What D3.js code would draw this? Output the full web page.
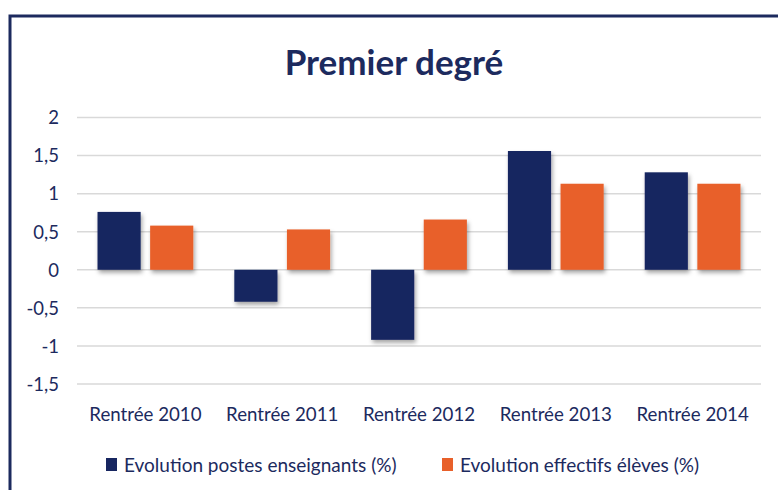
<!DOCTYPE html>
<html><head><meta charset="utf-8">
<script src="https://cdn.jsdelivr.net/npm/d3@7"></script>
<style>body{margin:0;background:#fff}svg{display:block}</style>
</head><body><svg id="c" width="778" height="490"></svg>
<script>
const categories = ["Rentrée 2010","Rentrée 2011","Rentrée 2012","Rentrée 2013","Rentrée 2014"];
const seriesNames = ["Evolution postes enseignants (%)","Evolution effectifs élèves (%)"];
const postes = [0.76, -0.42, -0.92, 1.56, 1.28];
const effectifs = [0.58, 0.53, 0.66, 1.13, 1.13];
const yTicks = [-1.5,-1,-0.5,0,0.5,1,1.5,2];
const colors = ["#172660","#E8602A"];
const titleText = "Premier degré";

const svg = d3.select("#c");
const font = "Lato, 'Open Sans', sans-serif";
const textColor = "#1c2a5e";

// frame
svg.append("rect").attr("x",10).attr("y",16).attr("width",790).attr("height",500)
  .attr("fill","none").attr("stroke","#1c2a5e").attr("stroke-width",3);

const defs = svg.append("defs");
const f = defs.append("filter").attr("id","sh").attr("x","-20%").attr("y","-20%").attr("width","150%").attr("height","150%");
f.append("feDropShadow").attr("dx",1.5).attr("dy",3).attr("stdDeviation",2).attr("flood-color","#000").attr("flood-opacity",0.35);

const x0 = d3.scaleBand().domain(categories).range([77,761]).paddingInner(0.3).paddingOuter(0.15);
const x1 = d3.scaleBand().domain([0,1]).range([0,x0.bandwidth()]).paddingInner(0.18);
const y = d3.scaleLinear().domain([-1.5,2]).range([384,117.5]);

// gridlines
svg.append("g").selectAll("line").data(yTicks).join("line")
  .attr("x1",77).attr("x2",761).attr("y1",d=>y(d)).attr("y2",d=>y(d))
  .attr("stroke","#d9d9d9").attr("stroke-width",1.5);

// y axis labels
const fmt = d => String(d).replace(".",",");
const yAxis = d3.axisLeft(y).tickValues(yTicks).tickFormat(fmt).tickSize(0).tickPadding(0);
const ya = svg.append("g").attr("transform","translate(59,0)").call(yAxis);
ya.select(".domain").remove();
ya.selectAll("text").attr("font-family",font).attr("font-size",18.5).attr("fill",textColor).attr("dy","0.34em");

// bars
const data = categories.map((c,i)=>({c, vals:[postes[i],effectifs[i]]}));
const g = svg.append("g");
data.forEach(d=>{
  d.vals.forEach((v,j)=>{
    g.append("rect")
      .attr("x", x0(d.c)+x1(j))
      .attr("width", x1.bandwidth())
      .attr("y", y(Math.max(0,v)))
      .attr("height", Math.abs(y(v)-y(0)))
      .attr("fill", colors[j])
      .attr("filter","url(#sh)");
  });
});

// x labels
const xAxis = d3.axisBottom(x0).tickSize(0).tickPadding(0);
const xa = svg.append("g").attr("transform","translate(0,421)").call(xAxis);
xa.select(".domain").remove();
xa.selectAll("text").attr("font-family",font).attr("font-size",18.7).attr("fill",textColor).attr("dy","0");

// title
svg.append("text").attr("x",394).attr("y",75).attr("text-anchor","middle")
  .attr("font-family",font).attr("font-weight","bold").attr("font-size",35)
  .attr("fill","#1c2a5e").text(titleText);

// legend
const legX = [106, 442];
seriesNames.forEach((n,i)=>{
  svg.append("rect").attr("x",legX[i]).attr("y",458).attr("width",11).attr("height",13).attr("fill",colors[i]);
  svg.append("text").attr("x",legX[i]+18).attr("y",472).attr("font-family",font).attr("font-size",19)
    .attr("fill",textColor).text(n);
});
</script></body></html>
